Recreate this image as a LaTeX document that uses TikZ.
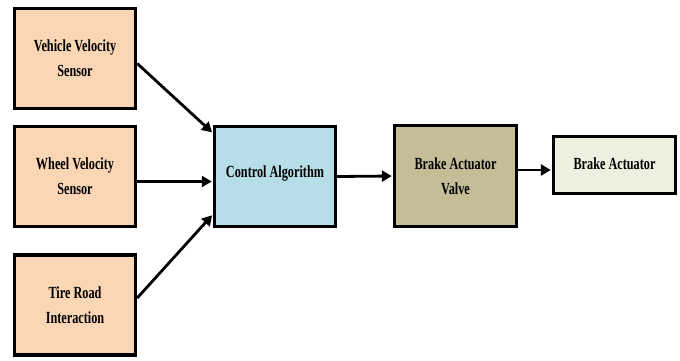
\documentclass[tikz,border=0pt]{standalone}
\usepackage{fontspec}
\setmainfont{Liberation Serif}[FakeStretch=0.72]
\usetikzlibrary{arrows.meta}
\definecolor{peach}{HTML}{FAD6B5}
\definecolor{lblue}{HTML}{B7DEE8}
\definecolor{tan}{HTML}{C4BD97}
\definecolor{pgreen}{HTML}{EBF1DE}
\begin{document}
\begin{tikzpicture}[x=1pt,y=-1pt,
  blk/.style={draw=black, line width=3.4pt, align=center, inner sep=2pt,
    font=\fontsize{17}{25}\selectfont\bfseries, minimum width=121pt, minimum height=100pt},
  arr/.style={-{Triangle[length=10pt,width=11pt]}, line width=2.8pt, shorten >=1pt}]
\useasboundingbox (0,0) rectangle (680,360);
\node[blk, fill=peach] (veh) at (75,58.5) {Vehicle Velocity\\Sensor};
\node[blk, fill=peach] (whl) at (75,176.5) {Wheel Velocity\\Sensor};
\node[blk, fill=peach] (tire) at (75,305) {Tire Road\\Interaction};
\node[blk, fill=lblue] (ctrl) at (275,176.5) {\raisebox{10pt}{Control Algorithm}};
\node[blk, fill=tan, minimum width=122pt, minimum height=101pt] (valve) at (455.5,176) {Brake Actuator\\Valve};
\node[blk, fill=pgreen, minimum width=122pt, minimum height=57pt] (act) at (614.5,165) {\raisebox{2pt}{Brake Actuator}};
\draw[arr] ([yshift=-5pt]veh.east) -- ([yshift=43.5pt]ctrl.west);
\draw[arr] ([yshift=-5pt]whl.east) -- ([yshift=-5pt]ctrl.west);
\draw[arr] ([yshift=7pt]tire.east) -- ([yshift=-38pt]ctrl.west);
\draw[arr] (ctrl.east) -- (valve.west);
\coordinate (vo) at ([yshift=-5pt]act.west);
\draw[arr] (vo -| valve.east) -- (vo);
\end{tikzpicture}
\end{document}
